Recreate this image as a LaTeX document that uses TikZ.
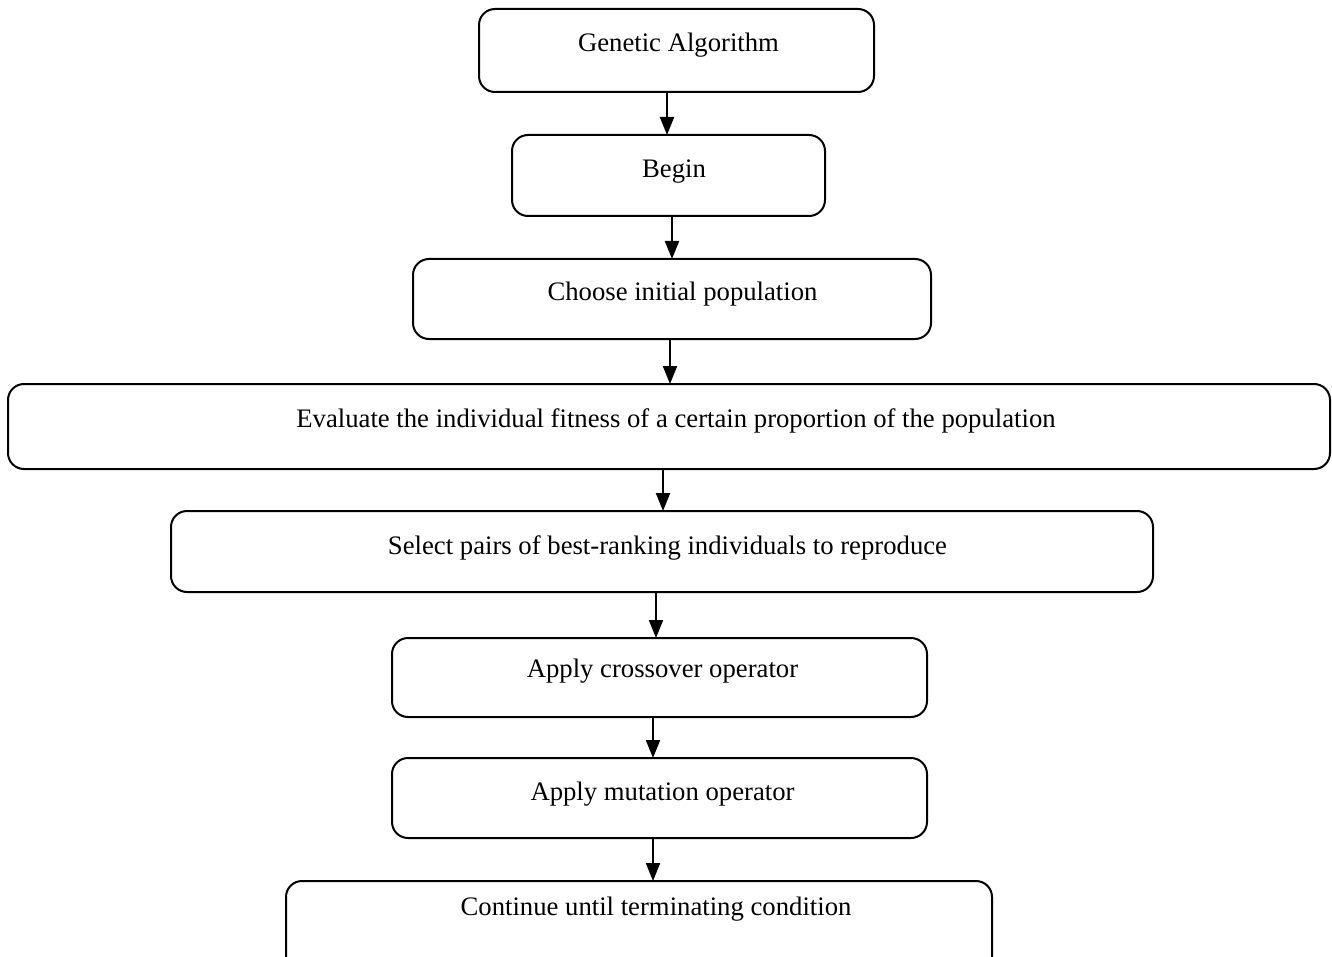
\documentclass[tikz,border=0pt]{standalone}
\usepackage{fontspec}
\setmainfont{Liberation Serif}
\usetikzlibrary{arrows.meta}
\begin{document}
\begin{tikzpicture}[x=1pt,y=-1pt,
  box/.style={draw=black,line width=2pt,rounded corners=16pt,rectangle,inner sep=0pt,outer sep=0pt},
  lbl/.style={anchor=base,inner sep=0pt,font=\fontsize{26.7}{32}\selectfont},
  arr/.style={line width=2pt,-{Triangle[length=18pt,width=14pt]}}]
\useasboundingbox (0,0) rectangle (1332,957);
\clip (0,0) rectangle (1332,957);
\node[box,minimum width=395pt,minimum height=83pt] (b1) at (676.5,50.5) {};
\node[box,minimum width=313pt,minimum height=81pt] (b2) at (668.5,175.5) {};
\node[box,minimum width=518pt,minimum height=80pt] (b3) at (672,299) {};
\node[box,minimum width=1322pt,minimum height=85pt] (b4) at (669,426.5) {};
\node[box,minimum width=982pt,minimum height=81pt] (b5) at (662,551.5) {};
\node[box,minimum width=535pt,minimum height=79pt] (b6) at (659.5,677.5) {};
\node[box,minimum width=535pt,minimum height=80pt] (b7) at (659.5,798) {};
\node[box,minimum width=706pt,minimum height=94pt] (b8) at (639,928) {};
\node[lbl] (t1) at (678.5,52) {Genetic Algorithm};
\node[lbl] (t2) at (674,178) {Begin};
\node[lbl] (t3) at (682.5,301) {Choose initial population};
\node[lbl] (t4) at (676,427) {Evaluate the individual fitness of a certain proportion of the population};
\node[lbl] (t5) at (667.5,554) {Select pairs of best-ranking individuals to reproduce};
\node[lbl] (t6) at (662.5,677) {Apply crossover operator};
\node[lbl] (t7) at (662.5,800) {Apply mutation operator};
\node[lbl] (t8) at (656,915) {Continue until terminating condition};
\draw[arr] (667,0 |- b1.south) -- (667,0 |- b2.north);
\draw[arr] (672,0 |- b2.south) -- (672,0 |- b3.north);
\draw[arr] (670,0 |- b3.south) -- (670,0 |- b4.north);
\draw[arr] (663,0 |- b4.south) -- (663,0 |- b5.north);
\draw[arr] (656,0 |- b5.south) -- (656,0 |- b6.north);
\draw[arr] (653,0 |- b6.south) -- (653,0 |- b7.north);
\draw[arr] (653,0 |- b7.south) -- (653,0 |- b8.north);
\end{tikzpicture}
\end{document}
